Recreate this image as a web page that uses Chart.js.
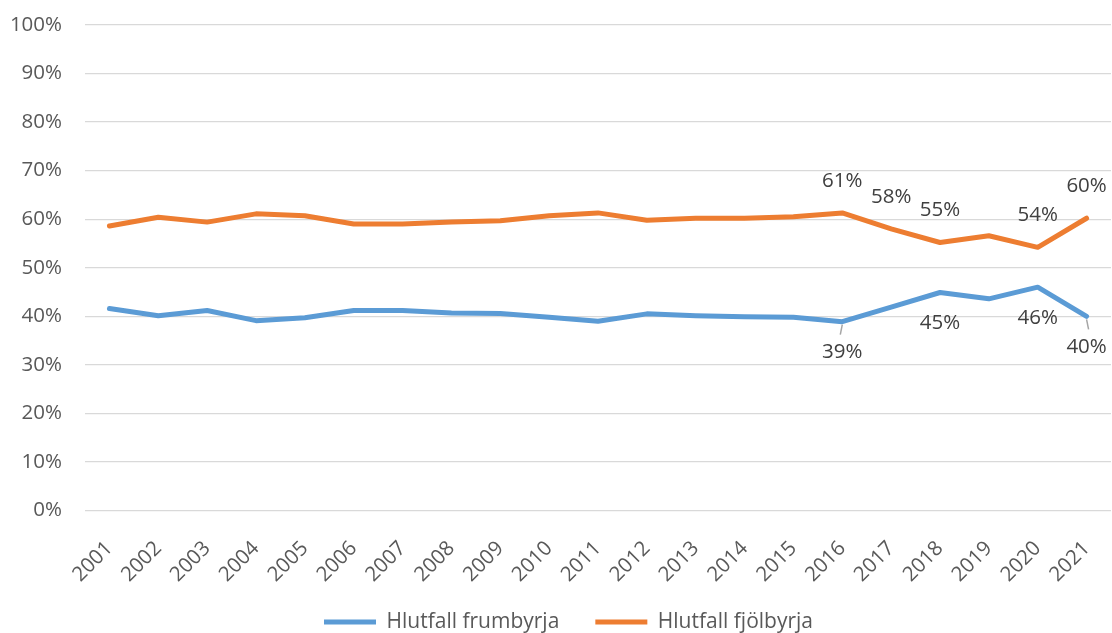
<!DOCTYPE html>
<html>
<head>
<meta charset="utf-8">
<script src="https://cdn.jsdelivr.net/npm/chart.js@4/dist/chart.umd.min.js"></script>
<style>
  html, body { margin: 0; padding: 0; background: #fff; }
  #wrap { width: 1112px; height: 633px; }
</style>
</head>
<body>
<div id="wrap"><canvas id="chart" width="1112" height="633"></canvas></div>
<script>
const years = ['2001', '2002', '2003', '2004', '2005', '2006', '2007', '2008', '2009', '2010', '2011',
  '2012', '2013', '2014', '2015', '2016', '2017', '2018', '2019', '2020', '2021'];
const frumbyrja = [41.6, 40.1, 41.2, 39.1, 39.7, 41.2, 41.2, 40.7, 40.6, 39.8, 39.0,
  40.5, 40.1, 39.9, 39.8, 38.9, 41.9, 44.9, 43.6, 46.0, 40.0];
const fjolbyrja = [58.6, 60.4, 59.4, 61.1, 60.7, 59.0, 59.0, 59.4, 59.7, 60.7, 61.3,
  59.8, 60.2, 60.2, 60.5, 61.3, 58.0, 55.2, 56.6, 54.2, 60.2];
const yTicks = [0, 10, 20, 30, 40, 50, 60, 70, 80, 90, 100];

// which points carry a value label
const frumLabelIdx = [15, 17, 19, 20];
const fjolLabelIdx = [15, 16, 17, 19, 20];

const FONT = "'Open Sans', 'Liberation Sans', sans-serif";

const valueLabels = {
  id: 'valueLabels',
  afterLayout(chart) {
    // legend sits a bit right of centre in the original
    chart.legend.left += 13;
    chart.legend.right += 13;
  },
  afterDatasetsDraw(chart) {
    const ctx = chart.ctx;
    ctx.save();
    ctx.font = '20.5px ' + FONT;
    ctx.fillStyle = '#404040';
    ctx.textAlign = 'center';
    ctx.textBaseline = 'middle';

    const blue = chart.getDatasetMeta(0).data;
    frumLabelIdx.forEach(i => {
      const p = blue[i];
      ctx.fillText(Math.round(frumbyrja[i]) + '%', p.x, p.y + 31);
    });
    const orange = chart.getDatasetMeta(1).data;
    fjolLabelIdx.forEach(i => {
      const p = orange[i];
      ctx.fillText(Math.round(fjolbyrja[i]) + '%', p.x, p.y - 32);
    });

    // little leader lines for the labels that sit close to the line
    ctx.strokeStyle = '#a6a6a6';
    ctx.lineWidth = 1.5;
    [[15, -2], [20, 2]].forEach(([i, dx]) => {
      const p = blue[i];
      ctx.beginPath();
      ctx.moveTo(p.x, p.y + 3);
      ctx.lineTo(p.x + dx, p.y + 13);
      ctx.stroke();
    });
    ctx.restore();
  }
};

new Chart(document.getElementById('chart'), {
  type: 'line',
  data: {
    labels: years,
    datasets: [
      {
        label: 'Hlutfall frumbyrja',
        data: frumbyrja,
        borderColor: '#5B9BD5',
        backgroundColor: '#5B9BD5',
        borderWidth: 5,
        pointRadius: 0,
        tension: 0,
        borderJoinStyle: 'round',
        borderCapStyle: 'round'
      },
      {
        label: 'Hlutfall fjölbyrja',
        data: fjolbyrja,
        borderColor: '#ED7D31',
        backgroundColor: '#ED7D31',
        borderWidth: 5,
        pointRadius: 0,
        tension: 0,
        borderJoinStyle: 'round',
        borderCapStyle: 'round'
      }
    ]
  },
  options: {
    responsive: false,
    animation: false,
    layout: { padding: { top: 25, right: 1, left: 0, bottom: -9.5 } },
    plugins: {
      legend: {
        position: 'bottom',
        labels: {
          usePointStyle: true,
          pointStyle: 'line',
          pointStyleWidth: 52,
          padding: 36,
          color: '#595959',
          font: { family: FONT, size: 21 }
        }
      },
      tooltip: { enabled: false }
    },
    scales: {
      y: {
        min: 0,
        max: 100,
        afterFit: s => {
          s.width = 85;
          s.paddingTop = 0;
          s.paddingBottom = 0;
        },
        afterBuildTicks: s => { s.ticks = yTicks.map(v => ({ value: v })); },
        grid: { color: '#d9d9d9', lineWidth: 1.3, drawTicks: false },
        border: { display: false },
        ticks: {
          padding: 23,
          color: '#595959',
          font: { family: FONT, size: 20.5 },
          callback: v => v + '%'
        }
      },
      x: {
        offset: true,
        afterFit: s => {
          s.height = 65;
          s.paddingLeft = 0;
          s.paddingRight = 0;
          // rotated labels run into the legend's box; don't clip them
          s._computeLabelArea = () => undefined;
        },
        grid: { display: false, drawTicks: false, offset: true },
        border: { display: false },
        ticks: {
          minRotation: 45,
          maxRotation: 45,
          autoSkip: false,
          padding: 26,
          color: '#595959',
          font: { family: FONT, size: 20.5 }
        }
      }
    }
  },
  plugins: [valueLabels]
});
</script>
</body>
</html>
